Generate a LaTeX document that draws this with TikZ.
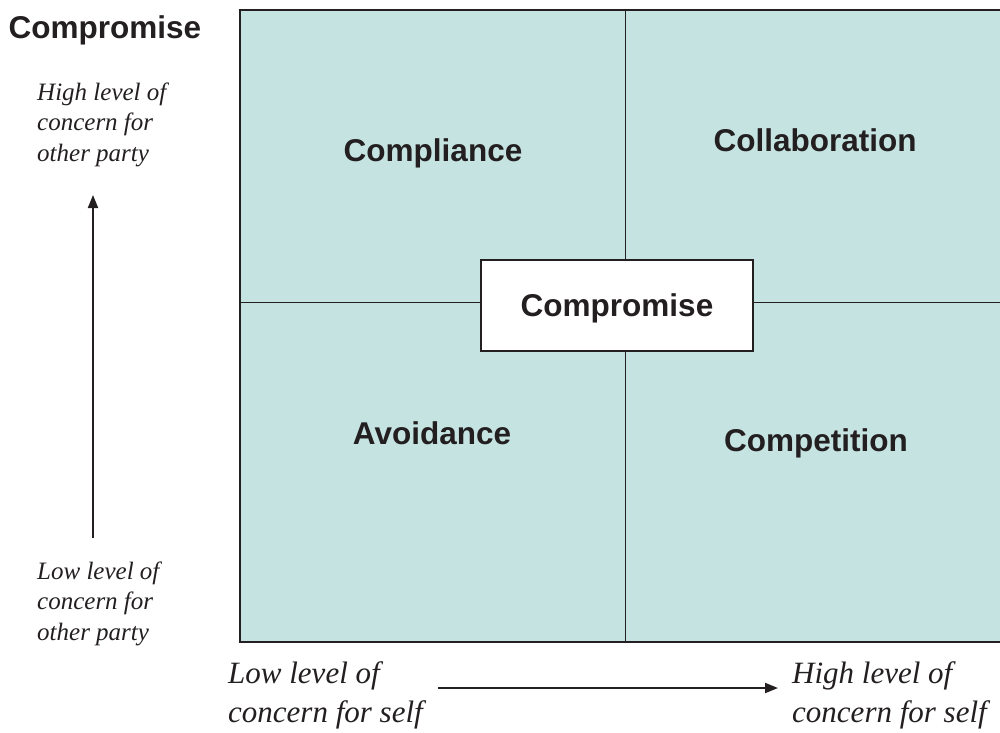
\documentclass[tikz,border=0pt]{standalone}
\usepackage{fontspec}
\setmainfont{Liberation Serif}
\newfontfamily\headfont{Liberation Sans}
\usetikzlibrary{arrows.meta,positioning}
\definecolor{paleteal}{RGB}{197,227,225}
\definecolor{inkgray}{RGB}{35,31,32}

\begin{document}
\begin{tikzpicture}[x = 1pt, y = -1pt,
  quadlabel/.style = {font=\headfont\bfseries\fontsize{31.5}{36}\selectfont, text=inkgray, anchor=base, inner sep=0pt},
  sidelabel/.style = {align=left, font=\itshape\fontsize{25}{30.5}\selectfont, text=inkgray, anchor=base west, inner sep=0pt},
  footlabel/.style = {align=left, font=\itshape\fontsize{31}{39}\selectfont, text=inkgray, anchor=base west, inner sep=0pt},
  axisarrow/.style = {-{Triangle[length=13pt,width=10pt]}, line width=2pt, inkgray}]
\useasboundingbox (0,0) rectangle (1000,732);
% the grid
\fill[paleteal] (240,10) rectangle (1005,642);
\draw[inkgray, line width=1.5pt] (1005,10) -- (240,10) -- (240,642) -- (1005,642);
\draw[inkgray, line width=1pt] (625,10) -- (625,642);
\draw[inkgray, line width=1pt] (240,302) -- (1005,302);
\node[draw = inkgray, fill = white, line width = 2.5pt, minimum width = 272pt, minimum height = 91pt] (box) at (617,305.5) {};
\node[quadlabel] (compromise) at (617,316) {Compromise};
\node[quadlabel] (compliance) at (433,161) {Compliance};
\node[quadlabel] (collaboration) at (815,151) {Collaboration};
\node[quadlabel] (avoidance) at (432,444) {Avoidance};
\node[quadlabel] (competition) at (816,451) {Competition};
% title
\node[quadlabel] (title) at (105,38) {Compromise};
% concern for the other party (base = last line)
\node[sidelabel] (highother) at (37,161) {High level of\\concern for\\other party};
\node[sidelabel] (lowother) at (37,640) {Low level of\\concern for\\other party};
\coordinate (otherfrom) at (93,538);
\coordinate (otherto) at (93,195);
\draw[axisarrow] (otherfrom) -- (otherto);
% concern for self
\node[footlabel] (lowself) at (228,722) {Low level of\\concern for self};
\node[footlabel] (highself) at (792,722) {High level of\\concern for self};
\coordinate (selffrom) at (438,688);
\coordinate (selfto) at (778,688);
\draw[axisarrow] (selffrom) -- (selfto);
\end{tikzpicture}
\end{document}
